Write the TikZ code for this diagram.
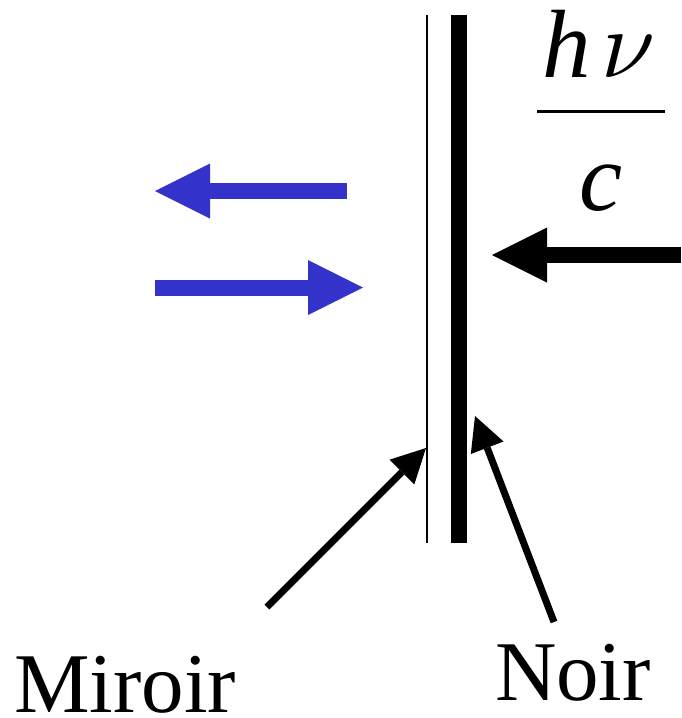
\documentclass[tikz,border=0pt]{standalone}
\usepackage{graphicx}
\usepackage{fontspec}
\setmainfont{Liberation Serif}
\usetikzlibrary{arrows.meta}
\definecolor{arrowblue}{RGB}{51,51,204}
\begin{document}
\begin{tikzpicture}[x=1pt,y=-1pt,
  blockarrow/.style={line width=16pt,-{Triangle[length=55pt,width=55pt,line width=0pt]}},
  pointer/.style={line width=7pt,-{Triangle[length=34pt,width=35pt,line width=0pt]}},
  plate/.style={line cap=butt},
  lbl/.style={font=\fontsize{85}{100}\selectfont, inner sep=0pt, anchor=base},
  mathlbl/.style={font=\fontsize{97}{110}\selectfont\itshape, inner sep=0pt, anchor=base}]
\useasboundingbox (0,0) rectangle (681,718);
% plates
\coordinate (mtop) at (427,15);
\coordinate (mbot) at (427,543);
\coordinate (btop) at (459,15);
\coordinate (bbot) at (459,543);
\draw[plate,line width=1.5pt] (mtop) -- (mbot);
\draw[plate,line width=16pt] (btop) -- (bbot);
% momentum label
\node[mathlbl] (hnu) at (599,77) {h\kern0.1em\scalebox{9.7}{\normalsize$\nu$}};
\node[mathlbl] (c) at (601,210) {c};
\coordinate (barl) at (537,111);
\coordinate (barr) at (665,111);
\draw[line width=3pt] (barl) -- (barr);
% incoming photon
\coordinate (inS) at (681,255);
\coordinate (inE) at (492,255);
\draw[blockarrow,black] (inS) -- (inE);
% blue arrows
\coordinate (b1S) at (347,191);
\coordinate (b1E) at (155,191);
\coordinate (b2S) at (155,287.5);
\coordinate (b2E) at (363,287.5);
\draw[blockarrow,arrowblue] (b1S) -- (b1E);
\draw[blockarrow,arrowblue] (b2S) -- (b2E);
% labels
\node[lbl] (miroir) at (125,712) {Miroir};
\node[lbl] (noir) at (573,700) {Noir};
\coordinate (mS) at (267,607);
\coordinate (mE) at (426,448);
\coordinate (nS) at (554,622);
\coordinate (nE) at (475,416);
\draw[pointer] (mS) -- (mE);
\draw[pointer] (nS) -- (nE);
\end{tikzpicture}
\end{document}
